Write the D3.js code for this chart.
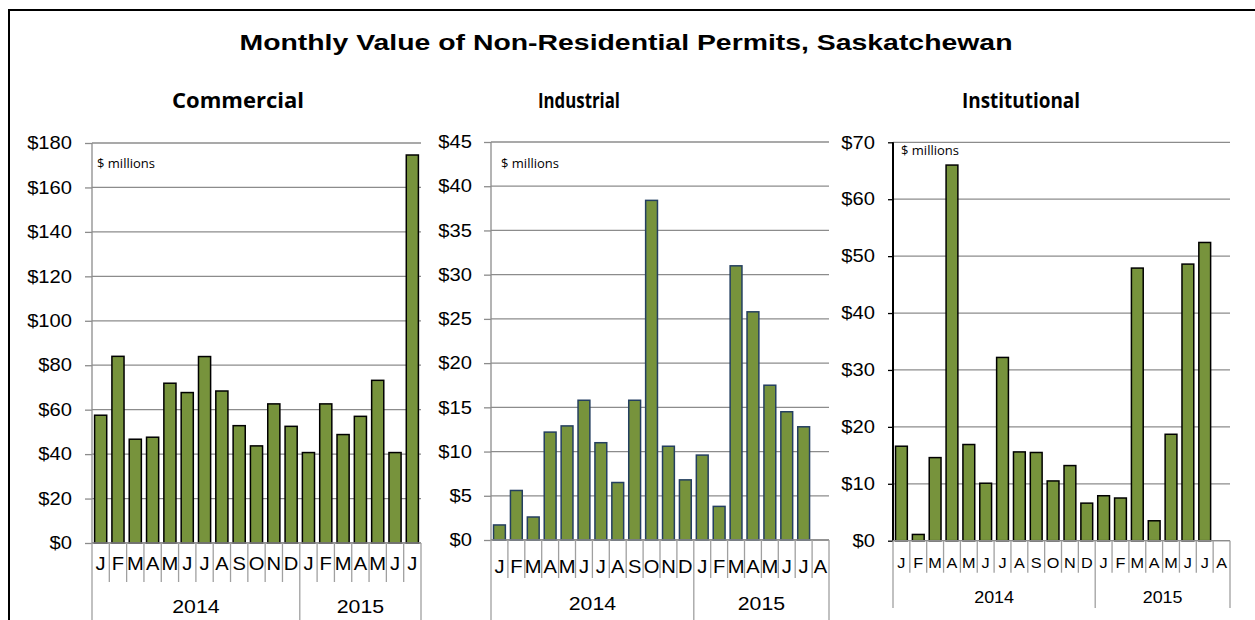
<!DOCTYPE html>
<html>
<head>
<meta charset="utf-8">
<script src="https://cdnjs.cloudflare.com/ajax/libs/d3/7.8.5/d3.min.js"></script>
<style>
    body { margin: 0; background: #fff; }
    svg text { font-family: "Liberation Sans", Arial, sans-serif; fill: #000; }
    .sub-title { font-family: "Open Sans", sans-serif !important; font-weight: bold; }
    .unit-label { font-family: "Open Sans", sans-serif !important; }
</style>
</head>
<body>
<div id="chart-area"></div>
<script>

// Month letters (Jan 2014 - Aug 2015) and the year groups
var monthLabels = ["J","F","M","A","M","J","J","A","S","O","N","D","J","F","M","A","M","J","J","A"];
var yearLabels = ["2014", "2015"];

// Values in $ millions
var commercialValues = [57.5, 84.0, 46.7, 47.6, 71.9, 67.7, 83.9, 68.4, 52.8, 43.7, 62.6, 52.5,
                        40.7, 62.6, 48.8, 57.0, 73.2, 40.7, 174.6];
var industrialValues = [1.7, 5.6, 2.6, 12.2, 12.9, 15.8, 11.0, 6.5, 15.8, 38.4, 10.6, 6.8,
                        9.6, 3.8, 31.0, 25.8, 17.5, 14.5, 12.8, null];
var institutionalValues = [16.6, 1.1, 14.6, 66.0, 16.9, 10.1, 32.2, 15.6, 15.5, 10.5, 13.2, 6.6,
                           7.9, 7.5, 47.9, 3.5, 18.7, 48.6, 52.4, null];

var SX = 1.12;   // the source picture is a bit stretched sideways

var svg = d3.select("#chart-area").append("svg")
    .attr("width", 1255)
    .attr("height", 620);

svg.append("rect")
    .attr("x", 9).attr("y", 10)
    .attr("width", 1260).attr("height", 640)
    .attr("fill", "none")
    .attr("stroke", "#000")
    .attr("stroke-width", 2);

svg.append("text")
    .attr("x", 626).attr("y", 50)
    .attr("text-anchor", "middle")
    .attr("font-weight", "bold")
    .attr("font-size", 22)
    .attr("textLength", 773)
    .attr("lengthAdjust", "spacingAndGlyphs")
    .text("Monthly Value of Non-Residential Permits, Saskatchewan");


/*
 * PermitBarVis - one small bar chart
 */

PermitBarVis = function(_svg, _data, _config){
    this.svg = _svg;
    this.data = _data;
    this.config = _config;

    this.initVis();
}

PermitBarVis.prototype.initVis = function(){
    var vis = this;
    var c = vis.config;

    vis.g = vis.svg.append("g");

    vis.x = d3.scaleBand()
        .range([c.x0, c.x1])
        .paddingInner(0.3)
        .paddingOuter(0.15)
        .domain(d3.range(0, c.n));

    vis.y = d3.scaleLinear()
        .range([c.yBottom, c.yTop])
        .domain([0, c.yMax]);

    vis.ticks = d3.range(0, c.yMax + c.yStep / 2, c.yStep);

    // Sub title
    vis.g.append("text")
        .attr("class", "sub-title")
        .attr("x", c.titleX)
        .attr("y", 108)
        .attr("text-anchor", "middle")
        .attr("font-size", 21)
        .attr("textLength", c.titleW)
        .attr("lengthAdjust", "spacingAndGlyphs")
        .text(c.title);

    vis.updateVis();
}

PermitBarVis.prototype.updateVis = function(){
    var vis = this;
    var c = vis.config;

    // Gridlines
    vis.g.selectAll(".grid")
        .data(vis.ticks)
        .enter().append("line")
        .attr("class", "grid")
        .attr("x1", c.x0).attr("x2", c.x1)
        .attr("y1", function(d){ return vis.y(d); })
        .attr("y2", function(d){ return vis.y(d); })
        .attr("stroke", "#8c8c8c")
        .attr("stroke-width", 1.3);

    // Y axis
    vis.yAxis = d3.axisLeft(vis.y)
        .tickValues(vis.ticks)
        .tickSize(c.tickLen)
        .tickFormat(function(d){ return "$" + d; });

    var yg = vis.g.append("g")
        .attr("transform", "translate(" + c.x0 + ",0)")
        .call(vis.yAxis);

    yg.select(".domain").remove();
    yg.selectAll("line")
        .attr("stroke", c.axisColor)
        .attr("stroke-width", 1.3);
    yg.selectAll("text")
        .attr("font-size", 18)
        .attr("x", -c.labelGap / SX)
        .attr("transform", "scale(" + SX + ",1)");

    vis.g.append("line")
        .attr("x1", c.x0).attr("x2", c.x0)
        .attr("y1", c.yTop).attr("y2", c.yBottom)
        .attr("stroke", c.axisColor)
        .attr("stroke-width", c.axisWidth);

    // Bars
    vis.g.selectAll(".bar")
        .data(vis.data.map(function(v, i){ return { i: i, v: v }; })
            .filter(function(d){ return d.v != null; }))
        .enter().append("rect")
        .attr("class", "bar")
        .attr("x", function(d){ return vis.x(d.i); })
        .attr("width", vis.x.bandwidth())
        .attr("y", function(d){ return vis.y(d.v); })
        .attr("height", function(d){ return c.yBottom - vis.y(d.v); })
        .attr("fill", "#77933c")
        .attr("stroke", c.barStroke)
        .attr("stroke-width", 1.5);

    // Category axis: month letters between separator lines
    var step = vis.x.step();
    var edge = function(i){ return c.x0 + i * step; };

    vis.g.append("line")
        .attr("x1", c.x0).attr("x2", c.x1)
        .attr("y1", c.yBottom).attr("y2", c.yBottom)
        .attr("stroke", "#8c8c8c")
        .attr("stroke-width", 1.3);

    vis.g.selectAll(".month-sep")
        .data(d3.range(1, c.n))
        .enter().append("line")
        .attr("class", "month-sep")
        .attr("x1", edge).attr("x2", edge)
        .attr("y1", c.yBottom)
        .attr("y2", function(i){ return i == 12 ? c.yearLineEnd : c.yBottom + c.monthLineLen; })
        .attr("stroke", "#a0a0a0")
        .attr("stroke-width", 1.3);

    vis.g.selectAll(".year-sep")
        .data([0, c.n])
        .enter().append("line")
        .attr("class", "year-sep")
        .attr("x1", edge).attr("x2", edge)
        .attr("y1", c.yBottom)
        .attr("y2", c.yearLineEnd)
        .attr("stroke", "#a0a0a0")
        .attr("stroke-width", 1.3);

    vis.g.selectAll(".month-label")
        .data(d3.range(0, c.n))
        .enter().append("text")
        .attr("class", "month-label")
        .attr("text-anchor", "middle")
        .attr("font-size", c.monthFont)
        .attr("transform", function(i){
            return "translate(" + (vis.x(i) + vis.x.bandwidth() / 2) + "," + c.monthY + ") scale(" + SX + ",1)";
        })
        .text(function(i){ return monthLabels[i]; });

    vis.g.selectAll(".year-label")
        .data(yearLabels)
        .enter().append("text")
        .attr("class", "year-label")
        .attr("text-anchor", "middle")
        .attr("font-size", c.yearFont)
        .attr("transform", function(d, k){
            var mid = k == 0 ? (edge(0) + edge(12)) / 2 : (edge(12) + edge(c.n)) / 2;
            return "translate(" + mid + "," + c.yearY + ") scale(" + SX + ",1)";
        })
        .text(function(d){ return d; });

    // Units note
    vis.g.append("text")
        .attr("class", "unit-label")
        .attr("x", c.unitX)
        .attr("y", c.unitY)
        .attr("font-size", 13)
        .text("$ millions");
}


var commercialVis = new PermitBarVis(svg, commercialValues, {
    title: "Commercial", titleX: 238, titleW: 132,
    n: 19, x0: 92, x1: 421, yTop: 143, yBottom: 543, yMax: 180, yStep: 20,
    axisColor: "#8c8c8c", axisWidth: 1.3, tickLen: 7, labelGap: 20, barStroke: "#000",
    monthFont: 18, monthY: 570, monthLineLen: 39, yearFont: 19, yearY: 613, yearLineEnd: 630,
    unitX: 97, unitY: 168
});

var industrialVis = new PermitBarVis(svg, industrialValues, {
    title: "Industrial", titleX: 579, titleW: 82,
    n: 20, x0: 491, x1: 829, yTop: 142, yBottom: 540, yMax: 45, yStep: 5,
    axisColor: "#8c8c8c", axisWidth: 1.3, tickLen: 7, labelGap: 19, barStroke: "#243f60",
    monthFont: 18, monthY: 573, monthLineLen: 38, yearFont: 19, yearY: 610, yearLineEnd: 630,
    unitX: 501, unitY: 168
});

var institutionalVis = new PermitBarVis(svg, institutionalValues, {
    title: "Institutional", titleX: 1021, titleW: 118,
    n: 20, x0: 893, x1: 1230, yTop: 142.3, yBottom: 540.7, yMax: 70, yStep: 10,
    axisColor: "#000", axisWidth: 2, tickLen: 5, labelGap: 18, barStroke: "#000",
    monthFont: 14.5, monthY: 568, monthLineLen: 32, yearFont: 16, yearY: 603, yearLineEnd: 608,
    unitX: 901, unitY: 155
});

</script>
</body>
</html>
